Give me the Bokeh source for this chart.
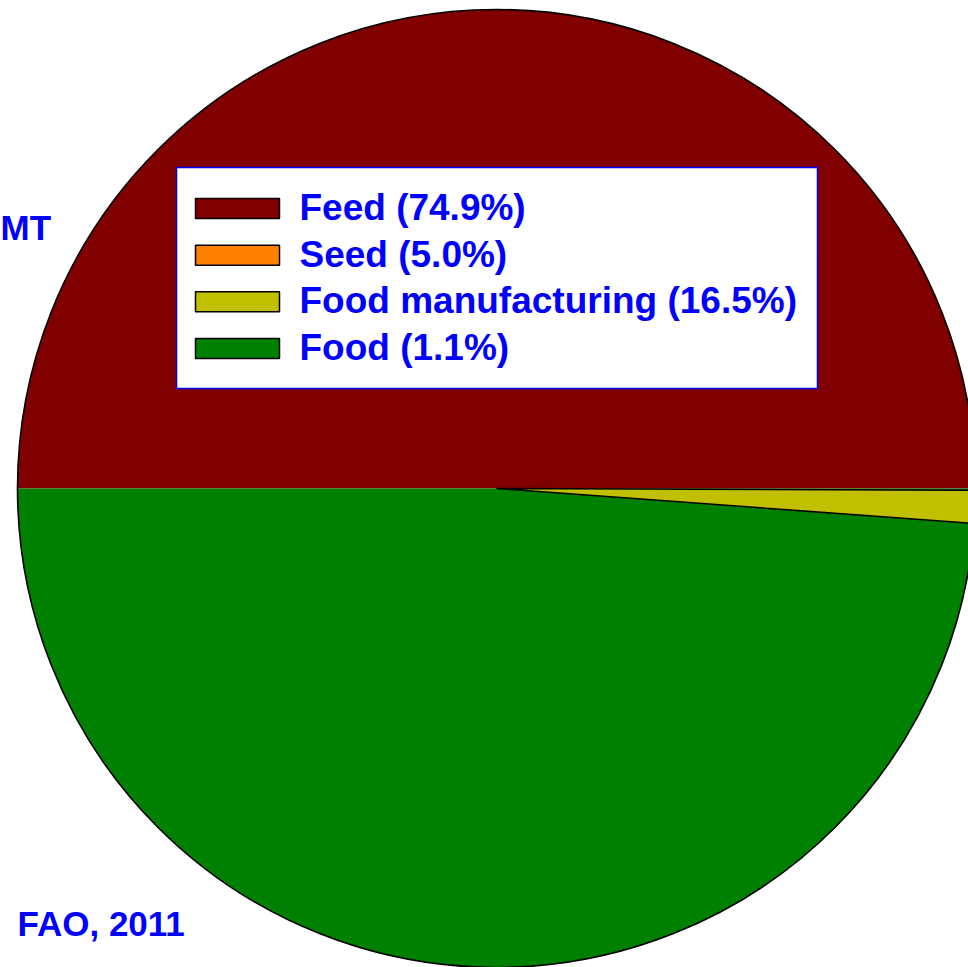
import math
from bokeh.plotting import figure
from bokeh.models import Range1d
from bokeh.core.properties import value
from bokeh.embed import file_html
from bokeh.resources import INLINE

# ---- data ----
categories = ["Feed", "Seed", "Food manufacturing", "Food"]
legend_pct = [74.9, 5.0, 16.5, 1.1]
colors = ["#800000", "#FF8000", "#C0C000", "#008000"]
# share of the circle (percent) occupied by each slice as drawn in the picture
drawn_share = [50.0, 0.0, 1.1, 50.0]
gap_share = 0.06          # small gap below 0 deg before the yellow slice
title_text = "MT"
source_text = "FAO, 2011"

W, H = 968, 967
p = figure(width=W, height=H, x_range=Range1d(0, W), y_range=Range1d(0, H),
           output_backend="svg", toolbar_location=None, min_border=0,
           x_axis_location=None, y_axis_location=None)
p.grid.visible = False
p.outline_line_color = None
p.background_fill_color = "white"
p.border_fill_color = "white"

cx, cy, r = 496, H - 488, 479
rad = lambda s: math.radians(s * 3.6)

# Feed: upper half (counter-clockwise from 0)
p.wedge(x=cx, y=cy, radius=r, start_angle=0, end_angle=rad(drawn_share[0]),
        fill_color=colors[0], line_color=None)
# Food: lower half
p.wedge(x=cx, y=cy, radius=r, start_angle=rad(drawn_share[0]),
        end_angle=rad(drawn_share[0] + drawn_share[3]),
        fill_color=colors[3], line_color=None)
# Food manufacturing: thin slice just below 0 deg
yel_end = -rad(gap_share)
yel_start = yel_end - rad(drawn_share[2])
p.wedge(x=cx, y=cy, radius=r, start_angle=yel_start, end_angle=yel_end,
        fill_color=colors[2], line_color="black", line_width=1.5)
# circle outline
p.circle(x=cx, y=cy, radius=r, fill_color=None, line_color="black", line_width=1.6)

# ---- legend ----
p.quad(left=176, right=817, bottom=H - 388, top=H - 167,
       fill_color="white", line_color="#0000FF", line_width=1.5)
step = 46.67
n = len(categories)
sw_top = [H - (198 + step * k) for k in range(n)]
sw_bot = [H - (218 + step * k) for k in range(n)]
p.quad(left=195, right=279, top=sw_top, bottom=sw_bot,
       fill_color=colors, line_color="black", line_width=1.5)
labels = [f"{c} ({v:.1f}%)" for c, v in zip(categories, legend_pct)]
p.text(x=[299] * n, y=[H - (207 + step * k) for k in range(n)], text=labels,
       text_font=value("Liberation Sans"), text_font_style="bold",
       text_font_size="37px", text_color="#0000FF", text_baseline="middle")

# ---- side texts ----
side_font = value("Liberation Sans")
p.text(x=[0], y=[H - 227], text=[title_text], text_align="left",
       text_baseline="middle", text_font=side_font, text_font_style="bold",
       text_font_size="35px", text_color="#0000FF")
p.text(x=[17], y=[H - 923], text=[source_text], text_align="left",
       text_baseline="middle", text_font=side_font, text_font_style="bold",
       text_font_size="35px", text_color="#0000FF")

open("out.html", "w").write(file_html(p, INLINE))
